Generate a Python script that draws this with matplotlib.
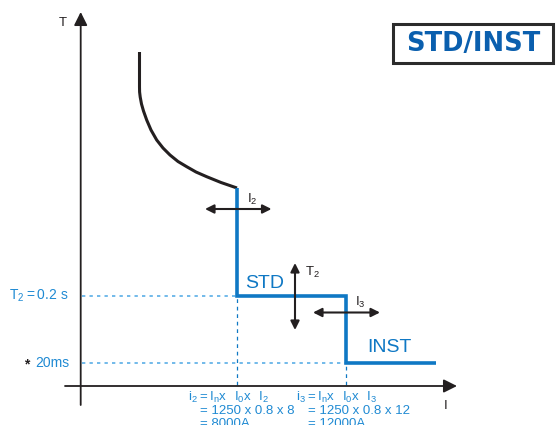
"""
STD/INST trip characteristic sketch (time vs current), schematic.
Coordinates: x = current (arbitrary units from the T axis), y = time (arbitrary units from the I axis).
"""
import matplotlib
matplotlib.use("Agg")
import matplotlib.pyplot as plt
from matplotlib.patches import Rectangle

# long-time (thermal) curve
lt_current = [59.5, 59.5, 59.6, 60.2, 61.5, 63.5, 66.7, 71.0, 76.7, 83.0,
              90.0, 98.0, 106.7, 116.0, 126.7, 141.0, 157.0]
lt_time = [333, 298, 293, 288, 281, 274, 265, 255, 245, 237,
           230, 223.5, 218.3, 213, 208.3, 202.5, 197]

# settings
I2 = 157        # short-time pickup   (8000 A)
I3 = 266        # instantaneous pickup (12000 A)
I_END = 356
T2 = 89         # 0.2 s
T_INST = 22     # 20 ms

std_current = [I2, I2, I3, I3, I_END]
std_time = [197, T2, T2, T_INST, T_INST]

ytick_labels = ["$\\mathregular{T_2 = 0.2\\ s}$", "20ms"]
formula_i2 = ["$\\mathregular{i_2 = I_n x\\ \\ I_0 x\\ \\ I_2}$",
              "= 1250 x 0.8 x 8", "= 8000A"]
formula_i3 = ["$\\mathregular{i_3 = I_n x\\ \\ I_0 x\\ \\ I_3}$",
              "= 1250 x 0.8 x 12", "= 12000A"]

BLUE = "#0f78c4"
LBLUE = "#1f8ad3"
DASH = "#5aaee6"
DARK = "#231f20"

plt.rcParams["font.family"] = ["Liberation Sans", "DejaVu Sans"]
plt.rcParams["mathtext.fontset"] = "custom"
plt.rcParams["mathtext.rm"] = "Liberation Sans"

fig = plt.figure(figsize=(5.59, 4.25), dpi=100)
ax = fig.add_axes([0, 0, 1, 1])
ax.set_xlim(-80, 479)
ax.set_ylim(-40, 385)
ax.axis("off")

# axes with arrow heads
arrow_axis = dict(arrowstyle="-|>", color=DARK, lw=1.3, mutation_scale=20,
                  shrinkA=0, shrinkB=0)
ax.annotate("", xy=(0.7, 373), xytext=(0.7, -20), arrowprops=arrow_axis)
ax.annotate("", xy=(377, -1), xytext=(-15, -1), arrowprops=arrow_axis)
ax.text(-17, 362.5, "T", fontsize=9.5, color=DARK, ha="center", va="center")
ax.text(366, -21, "I", fontsize=9.5, color=DARK, ha="center", va="center")

# dotted guides
ax.plot([2, I2], [T2, T2], color=DASH, lw=1.2, ls=(0, (2, 2.5)))
ax.plot([2, I3], [T_INST, T_INST], color=DASH, lw=1.2, ls=(0, (2, 2.5)))
ax.plot([I2, I2], [0, T2], color=BLUE, lw=0.9, ls=(0, (3, 3)))
ax.plot([I3, I3], [0, T_INST], color=BLUE, lw=0.9, ls=(0, (3, 3)))

# curves
ax.plot(lt_current, lt_time, color=DARK, lw=2.2, solid_capstyle="butt")
ax.plot(std_current, std_time, color=BLUE, lw=2.6, solid_joinstyle="miter",
        solid_capstyle="butt")

# adjustment arrows
dbl = dict(arrowstyle="<|-|>", color=DARK, lw=1.5, mutation_scale=13,
           shrinkA=0, shrinkB=0)
ax.annotate("", xy=(125, 176), xytext=(191.5, 176), arrowprops=dbl)
ax.annotate("", xy=(215, 122), xytext=(215, 55), arrowprops=dbl)
ax.annotate("", xy=(233, 72.5), xytext=(300, 72.5), arrowprops=dbl)
ax.text(167, 186, "$\\mathregular{I_2}$", fontsize=9.5, color=DARK, va="center")
ax.text(225, 113, "$\\mathregular{T_2}$", fontsize=9.5, color=DARK, va="center")
ax.text(275, 83, "$\\mathregular{I_3}$", fontsize=9.5, color=DARK, va="center")

ax.text(185, 102, "STD", fontsize=14, color=BLUE, ha="center", va="center")
ax.text(309.5, 38, "INST", fontsize=14, color=BLUE, ha="center", va="center")

# y tick labels
ax.text(-11, T2, ytick_labels[0], fontsize=10, color=LBLUE, ha="right", va="center")
ax.text(-11, T_INST, ytick_labels[1], fontsize=10, color=LBLUE, ha="right", va="center")
ax.text(-53, T_INST - 1, "*", fontsize=10, color=DARK, ha="center", va="center",
        fontweight="bold")

# formulas under the I axis
for k, (a, b) in enumerate(zip(formula_i2, formula_i3)):
    x2 = 107.5 if k == 0 else 120
    x3 = 216.5 if k == 0 else 228.5
    y = -16 - 12.8 * k
    ax.text(x2, y, a, fontsize=9.5, color=LBLUE, va="baseline")
    ax.text(x3, y, b, fontsize=9.5, color=LBLUE, va="baseline")

# title box
ax.add_patch(Rectangle((313, 322), 160, 39, fc="white", ec="#2b2b2b", lw=2.2))
ax.text(393, 341.5, "STD/INST", fontsize=18.5, fontweight="bold", color="#0a5fae",
        family=["DejaVu Sans"], ha="center", va="center")

fig.savefig("out.png", dpi=100)
